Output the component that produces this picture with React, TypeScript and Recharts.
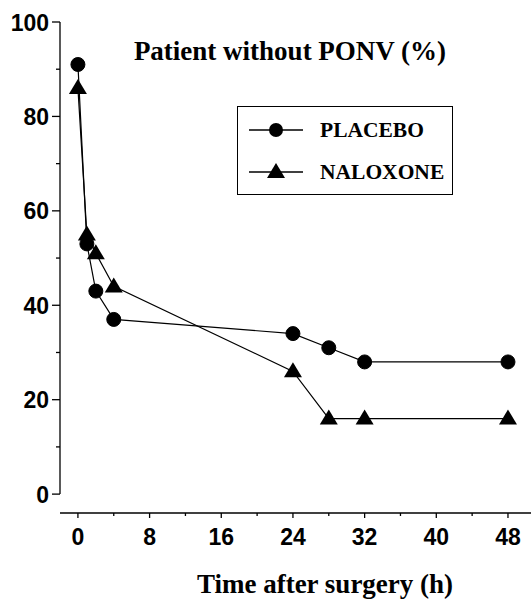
import React from 'react';
import { LineChart, Line, XAxis, YAxis, ReferenceLine } from 'recharts';

const hours = [0, 1, 2, 4, 24, 28, 32, 48];
const placebo = [91, 53, 43, 37, 34, 31, 28, 28];
const naloxone = [86, 55, 51, 44, 26, 16, 16, 16];
const xTicks = [0, 4, 8, 12, 16, 20, 24, 28, 32, 36, 40, 44, 48];
const yTicks = [0, 10, 20, 30, 40, 50, 60, 70, 80, 90, 100];

const data = hours.map((h, i) => ({ h, placebo: placebo[i], naloxone: naloxone[i] }));

const SANS = '"Liberation Sans", Arial, sans-serif';
const SERIF = '"Liberation Serif", "Times New Roman", serif';

const YTick = (props: any) => {
  const { x, y, payload } = props;
  const major = payload.value % 20 === 0;
  return (
    <g>
      <line x1={x - (major ? 8 : 4)} x2={x} y1={y} y2={y} stroke="#000" strokeWidth={1.3} />
      {major && (
        <text x={x - 11} y={y} dy={8.5} textAnchor="end" fontFamily={SANS} fontWeight="bold" fontSize={23} fill="#000">
          {payload.value}
        </text>
      )}
    </g>
  );
};

const XTick = (props: any) => {
  const { x, y, payload } = props;
  const major = payload.value % 8 === 0;
  return (
    <g>
      <line x1={x} x2={x} y1={y} y2={y + (major ? 5 : 3)} stroke="#000" strokeWidth={1.3} />
      {major && (
        <text x={x} y={y + 32} textAnchor="middle" fontFamily={SANS} fontWeight="bold" fontSize={23} fill="#000">
          {payload.value}
        </text>
      )}
    </g>
  );
};

const Triangle = (props: any) => {
  const { cx, cy, index } = props;
  if (cx == null || cy == null) return <g key={`t-${index}`} />;
  return (
    <path key={`t-${index}`} d={`M${cx},${cy - 9} L${cx + 9},${cy + 6} L${cx - 9},${cy + 6} Z`} fill="#000" />
  );
};

function LegendBox() {
  const row = (label: string, circle: boolean) => (
    <div style={{ display: 'flex', alignItems: 'center', height: 42 }}>
      <svg width={56} height={20} style={{ marginLeft: 11 }}>
        <line x1={0} x2={54} y1={10} y2={10} stroke="#000" strokeWidth={1.3} />
        {circle ? (
          <circle cx={27} cy={10} r={7} fill="#000" />
        ) : (
          <path d="M27,1 L36,16 L18,16 Z" fill="#000" />
        )}
      </svg>
      <span style={{ marginLeft: 15, fontFamily: SERIF, fontWeight: 'bold', fontSize: 21.5 }}>{label}</span>
    </div>
  );
  return (
    <div
      style={{
        position: 'absolute',
        left: 237,
        top: 106,
        width: 216,
        height: 89,
        border: '1.5px solid #000',
        paddingTop: 2,
        boxSizing: 'border-box',
      }}
    >
      {row('PLACEBO', true)}
      {row('NALOXONE', false)}
    </div>
  );
}

export default function App() {
  return (
    <div style={{ position: 'absolute', left: 0, top: 0, width: 531, height: 604, background: '#fff' }}>
      <LineChart width={531} height={604} data={data} margin={{ top: 22, right: 0, bottom: 51, left: 0 }}>
        <XAxis
          dataKey="h"
          type="number"
          domain={[-2, 50.57]}
          ticks={xTicks}
          interval={0}
          tickSize={0}
          tickMargin={0}
          tickLine={false}
          tick={<XTick />}
          axisLine={{ stroke: '#000', strokeWidth: 1.3 }}
          height={40}
          allowDataOverflow
        />
        <YAxis
          type="number"
          domain={[-4, 100]}
          ticks={yTicks}
          interval={0}
          tickSize={0}
          tickMargin={0}
          tickLine={false}
          tick={<YTick />}
          axisLine={false}
          width={60}
          allowDataOverflow
        />
        <ReferenceLine
          segment={[{ x: -2, y: 0 }, { x: -2, y: 100 }]}
          stroke="#000"
          strokeWidth={1.3}
          ifOverflow="visible"
        />
        <Line
          dataKey="placebo"
          stroke="#000"
          strokeWidth={1.2}
          dot={{ r: 7, fill: '#000', stroke: '#000', strokeWidth: 1 }}
          type="linear"
          isAnimationActive={false}
        />
        <Line
          dataKey="naloxone"
          stroke="#000"
          strokeWidth={1.2}
          dot={<Triangle />}
          type="linear"
          isAnimationActive={false}
        />
      </LineChart>
      <div
        style={{
          position: 'absolute',
          left: 0,
          width: 580,
          top: 36,
          textAlign: 'center',
          fontFamily: SERIF,
          fontWeight: 'bold',
          fontSize: 27,
        }}
      >
        Patient without PONV (%)
      </div>
      <LegendBox />
      <div
        style={{
          position: 'absolute',
          left: 0,
          width: 650,
          top: 569,
          textAlign: 'center',
          fontFamily: SERIF,
          fontWeight: 'bold',
          fontSize: 27,
        }}
      >
        Time after surgery (h)
      </div>
    </div>
  );
}
